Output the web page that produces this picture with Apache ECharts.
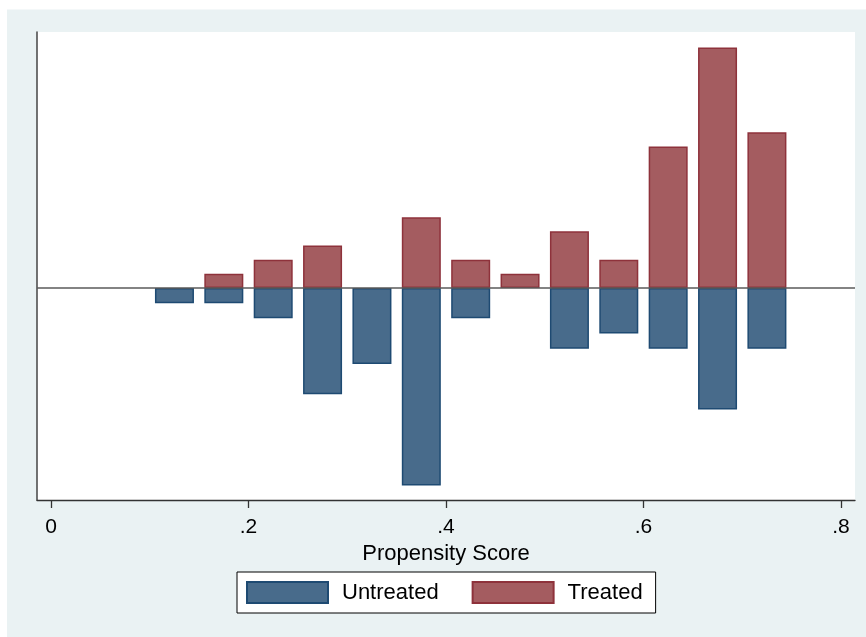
<!DOCTYPE html>
<html>
<head>
<meta charset="utf-8">
<script src="https://cdn.jsdelivr.net/npm/echarts@6/dist/echarts.min.js"></script>
<style>
  html, body { margin: 0; padding: 0; background: #ffffff; }
  #chart { width: 866px; height: 637px; }
</style>
</head>
<body>
<div id="chart"></div>
<script>
// Bin centers of the propensity score histogram
const binCenters = [0.125, 0.175, 0.225, 0.275, 0.325, 0.375, 0.425, 0.475, 0.525, 0.575, 0.625, 0.675, 0.725];
// Counts per bin (each group is plotted as a share of its own total)
const untreatedCounts = [1, 1, 2, 7, 5, 13, 2, 0, 4, 3, 4, 8, 4];
const treatedCounts   = [0, 1, 2, 3, 0, 5, 2, 1, 4, 2, 10, 17, 11];
// Tick labels
const xTickValues = [0, 0.2, 0.4, 0.6, 0.8];
const xTickLabels = ['0', '.2', '.4', '.6', '.8'];
const seriesNames = ['Untreated', 'Treated'];

const untreatedTotal = untreatedCounts.reduce((a, b) => a + b, 0);
const treatedTotal = treatedCounts.reduce((a, b) => a + b, 0);

const untreatedData = binCenters
  .map((x, i) => untreatedCounts[i] ? [x, -untreatedCounts[i] / untreatedTotal] : null)
  .filter(d => d);
const treatedData = binCenters
  .map((x, i) => treatedCounts[i] ? [x, treatedCounts[i] / treatedTotal] : null)
  .filter(d => d);

const FONT = '"Liberation Sans", Arial, sans-serif';
const chart = echarts.init(document.getElementById('chart'), null, { renderer: 'canvas' });

chart.setOption({
  animation: false,
  backgroundColor: '#ffffff',
  graphic: [{
    type: 'rect',
    z: -10,
    shape: { x: 7, y: 9.5, width: 866, height: 640 },
    style: { fill: '#eaf2f3' }
  }],
  grid: {
    left: 37, right: 11, top: 32, bottom: 137,
    show: true, backgroundColor: '#ffffff', borderWidth: 0,
    containLabel: false
  },
  legend: {
    data: seriesNames,
    left: 237, top: 572,
    orient: 'horizontal',
    padding: [9, 13, 9, 9],
    backgroundColor: '#ffffff',
    borderColor: '#000000',
    borderWidth: 1,
    itemWidth: 81,
    itemHeight: 21,
    itemGap: 33,
    icon: 'rect',
    textStyle: { fontFamily: FONT, fontSize: 22, color: '#000000', padding: [0, 0, 0, 9] }
  },
  xAxis: {
    type: 'value',
    min: -0.0142,
    max: 0.8142,
    name: 'Propensity Score',
    nameLocation: 'middle',
    nameGap: 39,
    nameTextStyle: { fontFamily: FONT, fontSize: 22, color: '#000000' },
    axisLine: { show: true, onZero: false, lineStyle: { color: '#333333', width: 1.3 } },
    axisTick: {
      show: true, length: 8, inside: false,
      customValues: xTickValues,
      lineStyle: { color: '#333333', width: 1.3 }
    },
    axisLabel: {
      show: true,
      customValues: xTickValues,
      margin: 17,
      fontFamily: FONT, fontSize: 21, color: '#000000',
      formatter: v => {
        const i = xTickValues.findIndex(t => Math.abs(t - v) < 1e-9);
        return i >= 0 ? xTickLabels[i] : '';
      }
    },
    splitLine: { show: false }
  },
  yAxis: {
    type: 'value',
    min: -0.2585,
    max: 0.312,
    axisLine: { show: true, onZero: false, lineStyle: { color: '#444444', width: 1.5 } },
    axisTick: { show: false },
    axisLabel: { show: false },
    splitLine: { show: false }
  },
  series: [
    {
      name: seriesNames[0],
      type: 'bar',
      barWidth: 39,
      barGap: '-100%',
      data: untreatedData,
      itemStyle: { color: '#486b8b', borderColor: '#1e4a72', borderWidth: 1.5 },
      markLine: {
        silent: true,
        symbol: ['none', 'none'],
        label: { show: false },
        lineStyle: { color: '#5a5a5a', width: 1.6, type: 'solid' },
        data: [{ yAxis: 0 }],
        z: 10
      }
    },
    {
      name: seriesNames[1],
      type: 'bar',
      barWidth: 39,
      barGap: '-100%',
      data: treatedData,
      itemStyle: { color: '#a45c60', borderColor: '#8e323b', borderWidth: 1.5 }
    }
  ]
});
</script>
</body>
</html>
